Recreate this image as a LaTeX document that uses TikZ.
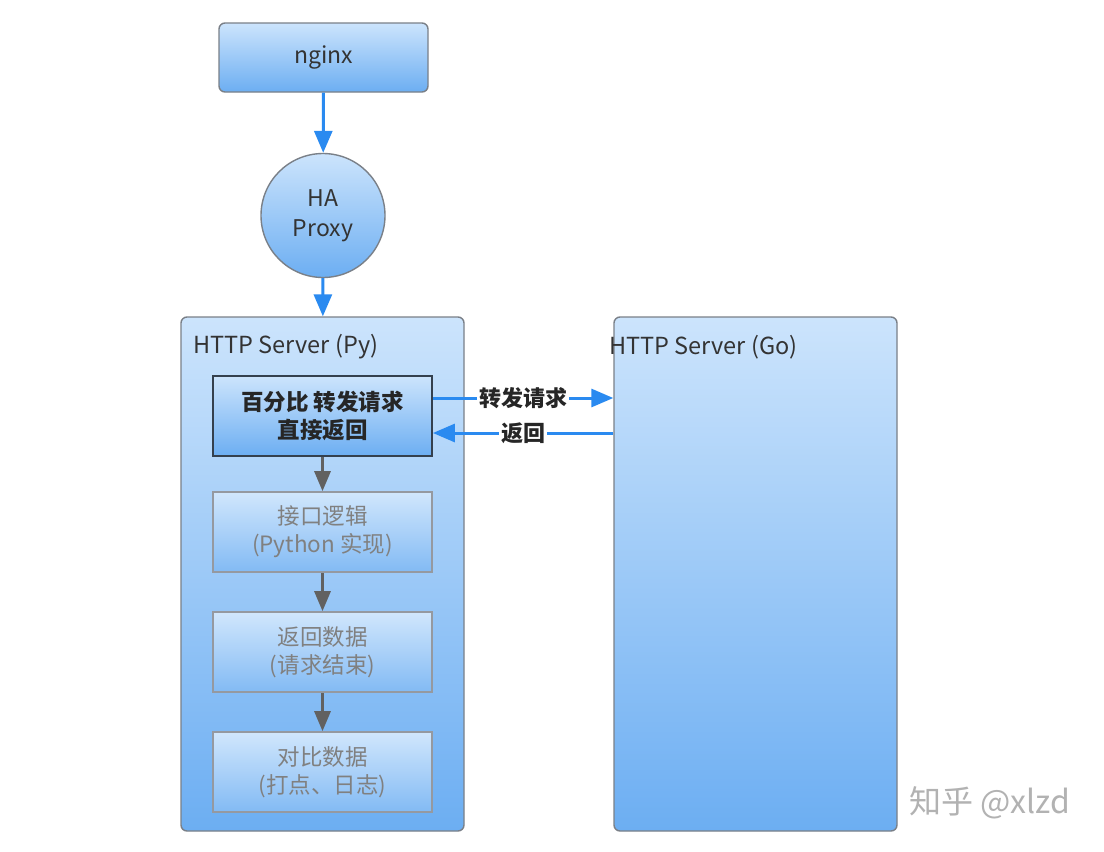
\documentclass[tikz,border=0pt]{standalone}
\usepackage{fontspec}
\setmainfont{Noto Sans CJK SC}
\usetikzlibrary{arrows.meta,positioning}
\definecolor{lt}{HTML}{CCE4FC}
\definecolor{dk}{HTML}{6CAEF2}
\definecolor{arw}{HTML}{2A8AF0}
\definecolor{edg}{HTML}{7A8088}
\definecolor{nav}{HTML}{34404E}
\begin{document}
\begin{tikzpicture}[x=1pt,y=-1pt]
 \tikzset{
  blk/.style={draw=edg, line width=1.4pt, rounded corners=6pt, top color=lt, bottom color=dk,
              text=black!80, font=\fontsize{23}{30}\selectfont, align=center},
  stp/.style={draw=edg!80, line width=1.6pt, top color=lt!90, bottom color=dk!85, align=center,
              minimum width=219pt, minimum height=80pt, text=black!50, font=\fontsize{22.5}{28}\selectfont},
  req/.style={-{Triangle[length=22pt,width=18pt]}, draw=arw, fill=arw, line width=3pt},
  nxt/.style={-{Triangle[length=20pt,width=16pt]}, draw=black!62, fill=black!62, line width=3pt},
  ttl/.style={anchor=west, text=black!80, font=\fontsize{23.5}{30}\selectfont},
  lbl/.style={midway, fill=white, inner sep=2pt, text=black!85, font=\fontsize{22}{28}\selectfont\bfseries}
 }
 \useasboundingbox [fill=white] (0,0) rectangle (1104,852);

 \node [blk, minimum width=209pt, minimum height=69pt] (ngx) at (323.5,57.5) {nginx};
 \node [blk, circle, minimum size=124pt, inner sep=0pt, rounded corners=0pt] (ha) at (323,215.5) {HA\\Proxy};
 \node [blk, minimum width=283pt, minimum height=514pt] (py) at (322.5,574) {};
 \node [blk, minimum width=283pt, minimum height=514pt] (go) at (755.5,574) {};
 \node [ttl] (pyt) at (190,347) {HTTP Server (Py)};
 \node [ttl] (got) at (606,347) {HTTP Server (Go)};

 \node [stp, draw=nav, line width=1.8pt, top color=lt, bottom color=dk, text=black!85,
        font=\fontsize{22.5}{28}\selectfont\bfseries] (sel) at (322.5,416) {百分比 转发请求\\直接返回};
 \foreach \txt [count=\i] in {接口逻辑\\(Python 实现), 返回数据\\(请求结束), 对比数据\\(打点、日志)}
  { \node [stp] (s\i) at (322.5,{412+120*\i}) {\txt}; }

 \draw [req] ([yshift=18pt]sel.east) -- ([yshift=18pt]sel.east -| go.west) node [lbl] (fwd) {转发请求};
 \draw [req] ([yshift=-17pt]sel.east -| go.west) -- ([yshift=-17pt]sel.east) node [lbl] (bck) {返回};
 \draw [req] (ngx) -- (ha);
 \draw [req] (ha) -- (py);
 \foreach \src/\dst in {sel/s1, s1/s2, s2/s3}
  { \draw [nxt] (\src) -- (\dst); }

 \node [text=black!30, font=\fontsize{32}{36}\selectfont] (wm) at (990,803) {知乎 @xlzd};
\end{tikzpicture}
\end{document}
